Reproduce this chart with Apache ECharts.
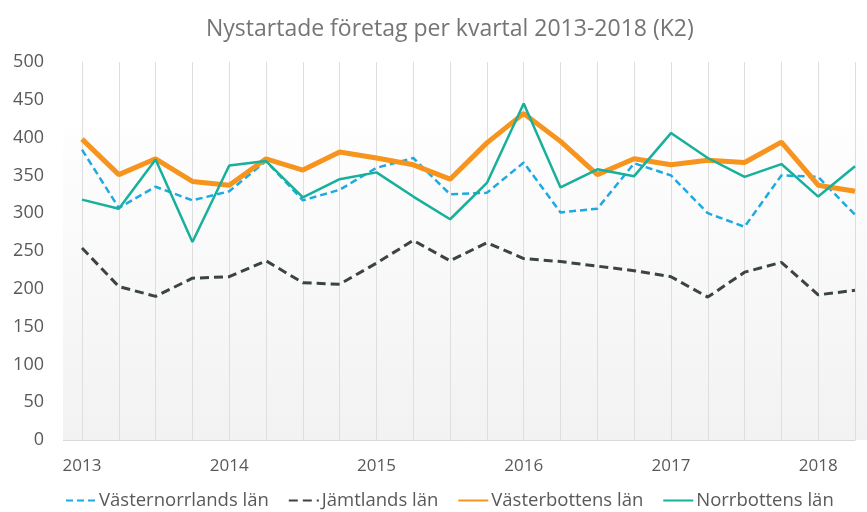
<!DOCTYPE html>
<html>
<head>
<meta charset="utf-8">
<script src="https://cdn.jsdelivr.net/npm/echarts@6/dist/echarts.min.js"></script>
<style>
  html, body { margin: 0; padding: 0; background: #fff; }
  #chart { width: 867px; height: 512px; }
</style>
</head>
<body>
<div id="chart"></div>
<script>
// kvartal 2013 K1 .. 2018 K2
const quarters = [
    '2013K1', '2013K2', '2013K3', '2013K4',
    '2014K1', '2014K2', '2014K3', '2014K4',
    '2015K1', '2015K2', '2015K3', '2015K4',
    '2016K1', '2016K2', '2016K3', '2016K4',
    '2017K1', '2017K2', '2017K3', '2017K4',
    '2018K1', '2018K2'];

const vasternorrland = [384, 307, 335, 317, 329, 369, 317, 331, 360, 373, 325, 327,
    367, 301, 306, 366, 350, 300, 282, 350, 348, 298];
const jamtland = [254, 203, 190, 214, 216, 237, 208, 206, 234, 264, 237, 261,
    240, 236, 230, 224, 216, 189, 222, 235, 192, 198];
const vasterbotten = [398, 351, 372, 342, 337, 372, 357, 381, 373, 364, 345, 393,
    432, 395, 351, 372, 364, 370, 367, 394, 337, 329];
const norrbotten = [318, 306, 371, 262, 363, 369, 321, 345, 354, 322, 292, 340,
    445, 334, 358, 349, 406, 373, 348, 365, 322, 362];

const textColor = '#595959';
const font = 'Open Sans';

const chart = echarts.init(document.getElementById('chart'));

const option = {
    animation: false,
    title: {
        text: 'Nystartade företag per kvartal 2013-2018 (K2)',
        left: 201,
        top: 13,
        textStyle: {
            fontFamily: font,
            fontWeight: 'normal',
            fontSize: 23,
            color: '#757575'
        }
    },
    // plot area fill (Excel style light gradient)
    graphic: [{
        type: 'rect',
        z: -10,
        shape: {x: 63, y: 127, width: 804, height: 313},
        style: {
            fill: new echarts.graphic.LinearGradient(0, 0, 0, 1, [
                {offset: 0, color: '#fefefe'},
                {offset: 1, color: '#f2f2f2'}
            ])
        }
    }, {
        type: 'line',
        z: -5,
        shape: {x1: 63, y1: 440.5, x2: 82, y2: 440.5},
        style: {stroke: '#d9d9d9', lineWidth: 1}
    }],
    legend: {
        bottom: -3,
        left: 60,
        itemWidth: 30,
        itemHeight: 14,
        itemGap: 19,
        itemStyle: {opacity: 0},
        textStyle: {fontFamily: font, fontSize: 18.5, color: textColor, padding: [0, 0, 0, -2]},
        data: ['Västernorrlands län', 'Jämtlands län', 'Västerbottens län', 'Norrbottens län']
    },
    grid: {
        left: 82,
        right: 12,
        top: 62,
        bottom: 72
    },
    xAxis: {
        type: 'category',
        boundaryGap: false,
        data: quarters,
        axisLine: {lineStyle: {color: '#d9d9d9'}},
        axisTick: {show: false},
        splitLine: {show: true, interval: 0, lineStyle: {color: '#dedede', width: 1}},
        axisLabel: {
            interval: 3,
            margin: 18,
            fontFamily: font,
            fontSize: 17,
            color: textColor,
            formatter: v => v.slice(0, 4)
        }
    },
    yAxis: {
        type: 'value',
        min: 0,
        max: 500,
        interval: 50,
        axisLine: {show: false},
        axisTick: {show: false},
        splitLine: {show: false},
        axisLabel: {
            margin: 38,
            fontFamily: font,
            fontSize: 18,
            color: textColor
        }
    },
    series: [
        {
            name: 'Västernorrlands län',
            type: 'line',
            data: vasternorrland,
            showSymbol: false,
            symbol: 'none',
            color: '#1ea9e1',
            lineStyle: {width: 2.5, type: [7, 4], color: '#1ea9e1'},
            z: 2
        },
        {
            name: 'Jämtlands län',
            type: 'line',
            data: jamtland,
            showSymbol: false,
            symbol: 'none',
            color: '#3b4345',
            lineStyle: {width: 3, type: [9, 5], color: '#3b4345'},
            z: 2
        },
        {
            name: 'Västerbottens län',
            type: 'line',
            data: vasterbotten,
            showSymbol: false,
            symbol: 'none',
            color: '#f7941d',
            lineStyle: {width: 5, color: '#f7941d'},
            z: 3
        },
        {
            name: 'Norrbottens län',
            type: 'line',
            data: norrbotten,
            showSymbol: false,
            symbol: 'none',
            color: '#17b09b',
            lineStyle: {width: 2.5, color: '#17b09b'},
            z: 4
        }
    ]
};

chart.setOption(option);
</script>
</body>
</html>
